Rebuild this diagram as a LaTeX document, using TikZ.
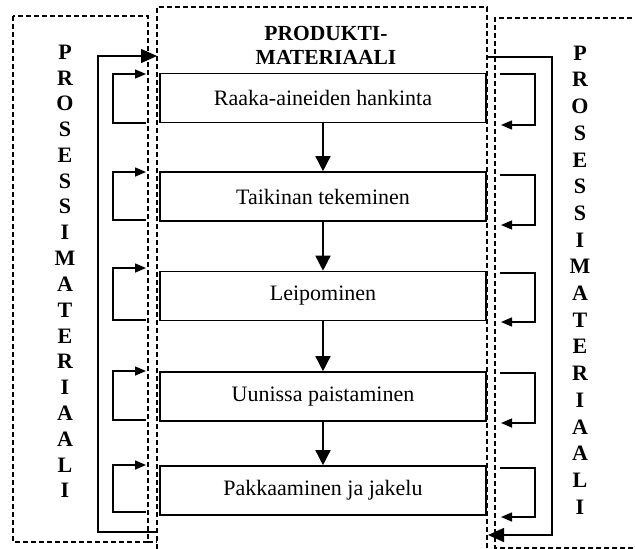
\documentclass[tikz,border=0pt]{standalone}
\usepackage{fontspec}
\setmainfont{Liberation Serif}
\usetikzlibrary{arrows.meta}
\begin{document}
\begin{tikzpicture}[x=1pt,y=-1pt,
  frame/.style={line width=1.8pt,dash pattern=on 5pt off 3pt},
  proc/.style={draw,line width=1.6pt,minimum width=326pt,minimum height=49pt,inner sep=0pt,font=\fontsize{22}{24}\selectfont},
  flow/.style={line width=1.5pt,-{Triangle[width=15pt,length=15pt]}},
  loop/.style={line width=1.5pt,-{Triangle[width=9pt,length=11pt]}},
  big/.style={line width=1.3pt,-{Triangle[width=14pt,length=16pt]}},
  letter/.style={font=\fontsize{22}{22}\bfseries\selectfont,inner sep=0pt},
  title/.style={font=\fontsize{21.5}{22}\bfseries\selectfont,inner sep=0pt}]
\useasboundingbox (0,0) rectangle (635,549);
% dashed frames
\draw[frame] (13,16) rectangle (148,542);
\draw[frame] (157,549) -- (157,7) -- (487,7) -- (487,549);
\draw[frame] (640,18) -- (495,18) -- (495,548) -- (640,548);
\draw[frame] (148,542) -- (157,542);
% title
\node[title] (t1) at (326,33) {PRODUKTI-};
\node[title] (t2) at (326,57) {MATERIAALI};
% process boxes
\node[proc] (b1) at (323,98) {Raaka-aineiden hankinta};
\node[proc] (b2) at (323,196.5) {Taikinan tekeminen};
\node[proc] (b3) at (323,296) {Leipominen};
\node[proc] (b4) at (323,396.5) {Uunissa paistaminen};
\node[proc] (b5) at (323,490.5) {Pakkaaminen ja jakelu};
\foreach \a/\b in {b1/b2,b2/b3,b3/b4,b4/b5}
  \draw[flow] (\a.south) -- (\b.north);
% left small loops
\foreach \t/\u in {74/123,172/220,268/320,371/420,465/512}{
  \draw[loop] (146,\u) -- (113,\u) -- (113,\t) -- (146,\t);
}
% right small loops
\foreach \t/\u in {74/125,175/225,273/322,373/423,468/517}{
  \draw[loop] (500,\t) -- (535,\t) -- (535,\u) -- (501,\u);
}
% big left arrow
\coordinate (lt) at (157,56);
\coordinate (lb) at (157,532);
\draw[big] (lb) -- (98,532) -- (98,56) -- (lt);
% big right arrow
\coordinate (rt) at (488,57);
\coordinate (rb) at (488,535);
\draw[big] (rt) -- (552,57) -- (552,535) -- (rb);
% vertical words
\foreach \c [count=\i from 0] in {P,R,O,S,E,S,S,I,M,A,T,E,R,I,A,A,L,I}{
  \node[letter] (l\i) at (65,52+25.8*\i) {\c};
  \node[letter] (r\i) at (580,53+26.7*\i) {\c};
}
\end{tikzpicture}
\end{document}
